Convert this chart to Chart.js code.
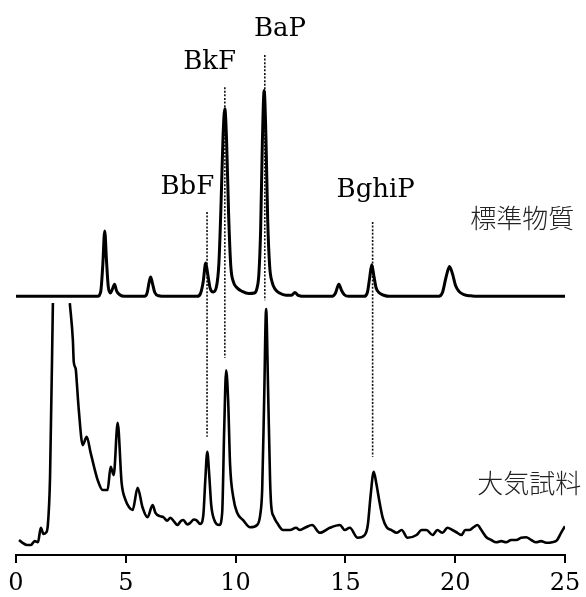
<!DOCTYPE html>
<html>
<head>
<meta charset="utf-8">
<script src="https://cdn.jsdelivr.net/npm/chart.js@4/dist/chart.umd.min.js"></script>
<style>
  html, body { margin: 0; padding: 0; background: #fff; }
  canvas { display: block; }
</style>
</head>
<body>
<canvas id="chrom" width="586" height="597"></canvas>
<script>
// retention time axis (min)
const xTicks = [0, 5, 10, 15, 20, 25];

// standard mixture: time and detector response above its own baseline
const stdTime = [0, 3.0, 3.72, 3.86, 3.95, 4.04, 4.12, 4.2, 4.3, 4.4, 4.49, 4.58, 4.72, 4.95,
  5.85, 5.97, 6.06, 6.13, 6.21, 6.32, 6.5, 6.8,
  8.25, 8.4, 8.52, 8.64, 8.74, 8.84, 8.98, 9.12, 9.24, 9.34, 9.43, 9.51, 9.59, 9.68, 9.78, 9.9, 10.05, 10.3, 10.6,
  10.85, 10.97, 11.06, 11.14, 11.22, 11.30, 11.38, 11.46, 11.55, 11.66, 11.8, 12.0, 12.3,
  12.55, 12.7, 12.85, 13.2, 14.4, 14.55, 14.7, 14.82, 14.95, 15.15,
  15.85, 16.0, 16.1, 16.2, 16.3, 16.4, 16.55, 16.75, 17.0,
  19.25, 19.42, 19.58, 19.74, 19.88, 20.02, 20.17, 20.4, 20.7, 21.0, 25];
const stdSignal = [0, 0, 0, 0.9, 5.5, 11.8, 6.5, 1.8, 0.6, 1.4, 2.2, 1.0, 0.3, 0,
  0, 0.6, 2.5, 3.5, 2.4, 0.7, 0.1, 0,
  0, 0.5, 2.5, 6.0, 3.8, 1.5, 0.8, 1.6, 6, 17, 29, 33.8, 28, 15, 5.5, 2.6, 1.6, 0.9, 0.5,
  0.6, 1.4, 4, 12, 28, 37.1, 29, 14, 5.5, 2.6, 1.3, 0.6, 0.2,
  0.2, 0.7, 0.2, 0, 0, 0.6, 2.2, 1.1, 0.3, 0,
  0, 0.7, 3.2, 5.7, 3.6, 1.5, 0.6, 0.2, 0,
  0, 0.7, 3.4, 5.4, 4.0, 1.9, 0.9, 0.3, 0.1, 0, 0];
const stdOffset = 46.6;

// air sample extract; null marks where the solvent front runs off scale
const airTime = [0.14, 0.3, 0.5, 0.68, 0.85, 1.0, 1.13, 1.25, 1.36, 1.45, 1.55, 1.68, 2.05,
  2.45, 2.59, 2.63, 2.72, 2.77, 2.86, 3.04, 3.22, 3.40, 3.72, 3.95, 4.17, 4.31, 4.45, 4.63, 4.81, 4.99,
  5.15, 5.31, 5.54, 5.76, 5.99, 6.22, 6.35, 6.55, 6.72, 6.88, 7.03, 7.2, 7.35, 7.5, 7.62, 7.8, 7.94, 8.1, 8.21, 8.39, 8.53,
  8.62, 8.71, 8.80, 8.89, 9.03, 9.26, 9.39, 9.48, 9.57, 9.66, 9.75, 9.89, 10.07, 10.34, 10.66, 10.98,
  11.12, 11.21, 11.30, 11.39, 11.48, 11.57, 11.62, 11.75, 11.89, 12.16, 12.48, 12.75, 12.93,
  13.20, 13.48, 13.84, 14.29, 14.75, 14.97, 15.20, 15.56, 15.88,
  16.02, 16.15, 16.29, 16.42, 16.56, 16.70, 16.88, 17.10, 17.33, 17.56, 17.83, 18.24, 18.47, 18.69,
  18.97, 19.19, 19.42, 19.65, 19.87, 20.10, 20.28, 20.46, 20.64, 20.83, 21.01, 21.19, 21.42, 21.64,
  21.87, 22.10, 22.32, 22.55, 22.78, 23.00, 23.23, 23.46, 23.68, 23.91, 24.14, 24.41, 24.64, 24.82, 25.0];
const airSignal = [2.7, 2.2, 1.8, 1.8, 2.5, 2.3, 4.9, 3.8, 4.0, 5.4, 14, 45.4, null,
  45.4, 38.7, 34.8, 33.5, 31, 26.1, 19.8, 21.3, 18.4, 13.5, 11.7, 11.7, 15.9, 14.4, 23.8, 13.0, 9.9,
  8.6, 8.1, 12.1, 8.6, 6.8, 9.0, 7.6, 7.0, 6.8, 6.2, 6.7, 6.0, 5.4, 6.1, 6.3, 5.5, 5.8, 6.4, 6.3, 5.6, 7.2,
  13.5, 18.6, 14.4, 9.0, 6.3, 5.4, 7.7, 22.5, 33.3, 27.9, 16.2, 10.5, 7.6, 6.3, 5.0, 5.4,
  7.2, 11.7, 27.9, 44.3, 29.7, 13.5, 9.0, 6.8, 5.8, 4.5, 4.5, 4.9, 4.5,
  5.0, 5.4, 4.0, 4.9, 5.4, 4.5, 4.9, 3.1, 3.6,
  5.4, 10.8, 15.0, 12.6, 9.4, 6.7, 5.0, 4.5, 4.0, 4.5, 3.1, 3.6, 4.5, 4.5,
  3.6, 4.5, 4.0, 4.9, 4.5, 4.0, 3.6, 4.5, 4.5, 5.0, 5.4, 4.5, 3.2, 2.7,
  2.3, 2.5, 2.3, 2.7, 2.7, 3.1, 3.2, 2.7, 2.3, 2.5, 2.2, 2.3, 2.7, 4.0, 5.2];

// identified PAH peaks: retention time and extent of the guide line
const peakNames = ['BbF', 'BkF', 'BaP', 'BghiP'];
const peakTimes = [8.70, 9.51, 11.33, 16.24];
const guideTop = [61.8, 84.3, 90.1, 60.0];
const guideBottom = [21.3, 35.5, 45.9, 17.7];

const traceNames = ['標準物質', '大気試料'];

const toPoints = (xs, ys, off = 0) => xs.map((x, i) => ({ x, y: ys[i] === null ? null : ys[i] + off }));

const datasets = [
  {
    data: toPoints(stdTime, stdSignal, stdOffset),
    borderColor: '#000', borderWidth: 3, pointRadius: 0,
    cubicInterpolationMode: 'monotone'
  },
  {
    data: toPoints(airTime, airSignal),
    borderColor: '#000', borderWidth: 2.6, pointRadius: 0,
    cubicInterpolationMode: 'monotone', spanGaps: false
  }
];
peakTimes.forEach((t, i) => {
  datasets.push({
    data: [{ x: t, y: guideTop[i] }, { x: t, y: guideBottom[i] }],
    borderColor: '#111', borderWidth: 1.6, borderDash: [2, 1.6], pointRadius: 0
  });
});

// text annotations, placed in data coordinates
const annot = {
  id: 'annot',
  afterDatasetsDraw(chart, args, opts) {
    const { ctx, scales: { x, y } } = chart;
    ctx.save();
    ctx.textAlign = 'center';
    ctx.textBaseline = 'middle';
    ctx.fillStyle = '#000';
    ctx.font = '26px "DejaVu Serif", serif';
    opts.peaks.forEach((p, i) => {
      ctx.fillText(peakNames[i], x.getPixelForValue(p[0]), y.getPixelForValue(p[1]));
    });
    ctx.fillStyle = '#222';
    ctx.font = '300 26px "Noto Sans CJK JP", sans-serif';
    opts.traces.forEach((p, i) => {
      ctx.fillText(traceNames[i], x.getPixelForValue(p[0]), y.getPixelForValue(p[1]));
    });
    ctx.restore();
  }
};

new Chart(document.getElementById('chrom'), {
  type: 'line',
  data: { datasets },
  plugins: [annot],
  options: {
    responsive: false,
    animation: false,
    parsing: false,
    layout: { padding: { left: 16, right: 21, top: 0, bottom: 0 } },
    plugins: {
      legend: { display: false },
      tooltip: { enabled: false },
      annot: {
        peaks: [[7.80, 66.2], [8.82, 88.7], [12.02, 94.8], [16.38, 65.8]],
        traces: [[23.05, 60.7], [23.37, 13.0]]
      }
    },
    scales: {
      x: {
        type: 'linear', min: 0, max: 25,
        afterBuildTicks: s => { s.ticks = xTicks.map(v => ({ value: v })); },
        // fixed axis band; end labels may hang into the side margins
        afterFit: s => { s.paddingLeft = 0; s.paddingRight = 0; s.height = 42; },
        ticks: { color: '#000', padding: 6.6, maxRotation: 0, font: { family: '"DejaVu Serif", serif', size: 24 } },
        grid: { drawOnChartArea: false, tickLength: 8, color: '#000', lineWidth: 2 },
        border: { color: '#000', width: 2 }
      },
      y: { display: false, min: 0, max: 100 }
    }
  }
});
</script>
</body>
</html>
